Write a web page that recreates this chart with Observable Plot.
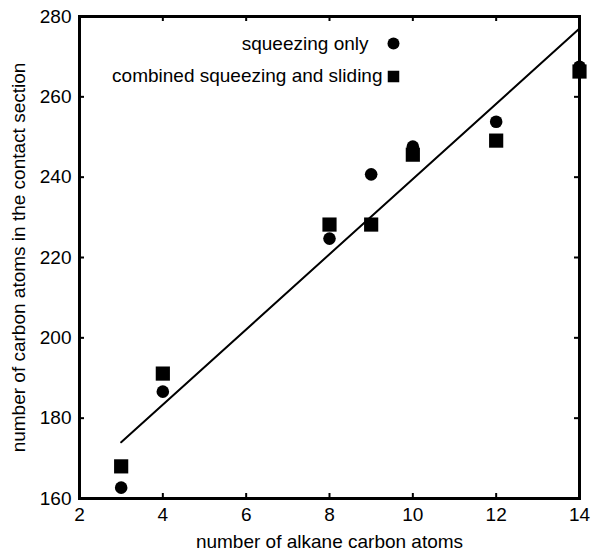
<!DOCTYPE html>
<html>
<head>
<meta charset="utf-8">
<script src="https://cdn.jsdelivr.net/npm/d3@7"></script>
<script src="https://cdn.jsdelivr.net/npm/@observablehq/plot@0.6"></script>
<style>
  html, body { margin: 0; padding: 0; background: #fff; }
  #chart svg { font-family: "Liberation Sans", Arial, Helvetica, sans-serif; }
</style>
</head>
<body>
<div id="chart"></div>
<script>
// Data
const carbonNumbers = [3, 4, 8, 9, 10, 12, 14];
const squeezingOnly = [162.7, 186.6, 224.7, 240.7, 247.6, 253.8, 267.5];
const combinedSliding = [168.0, 191.1, 228.2, 228.2, 245.6, 249.1, 266.3];
const fitX = [3, 14];
const fitY = [174, 277];
const xTicks = [2, 4, 6, 8, 10, 12, 14];
const yTicks = [160, 180, 200, 220, 240, 260, 280];
const legendLabels = ["squeezing only", "combined squeezing and sliding"];

const circles = carbonNumbers.map((x, i) => ({x, y: squeezingOnly[i]}));
const squares = carbonNumbers.map((x, i) => ({x, y: combinedSliding[i]}));
const fit = fitX.map((x, i) => ({x, y: fitY[i]}));

const W = 592, H = 552;
const mL = 79, mR = 13, mT = 16, mB = 54;
const plotH = H - mT - mB, plotW = W - mL - mR;
const FS = 19;

const chart = Plot.plot({
  width: W,
  height: H,
  marginLeft: mL,
  marginRight: mR,
  marginTop: mT,
  marginBottom: mB,
  style: {fontSize: FS + "px", fontFamily: '"Liberation Sans", Arial, sans-serif', color: "#000", background: "#fff"},
  x: {domain: [2, 14]},
  y: {domain: [160, 280]},
  marks: [
    Plot.axisX(xTicks, {tickSize: 0, tickPadding: 9, fontSize: FS, label: null}),
    Plot.axisY(yTicks, {tickSize: 0, tickPadding: 8, fontSize: FS, label: null}),
    // inward ticks on all four sides
    Plot.tickX(xTicks, {x: d => d, insetTop: plotH - 5, strokeWidth: 2}),
    Plot.tickX(xTicks, {x: d => d, insetBottom: plotH - 5, strokeWidth: 2}),
    Plot.tickY(yTicks, {y: d => d, insetRight: plotW - 5, strokeWidth: 2}),
    Plot.tickY(yTicks, {y: d => d, insetLeft: plotW - 5, strokeWidth: 2}),
    Plot.line(fit, {x: "x", y: "y", stroke: "#000", strokeWidth: 2}),
    Plot.dot(circles, {x: "x", y: "y", r: 6.3, fill: "#000", symbol: "circle"}),
    Plot.dot(squares, {x: "x", y: "y", r: 8, fill: "#000", symbol: "square"}),
    // legend
    Plot.text([legendLabels[0]], {frameAnchor: "top-left", dx: 289, dy: 27, text: d => d, textAnchor: "end", lineAnchor: "middle", fontSize: FS}),
    Plot.text([legendLabels[1]], {frameAnchor: "top-left", dx: 303, dy: 59, text: d => d, textAnchor: "end", lineAnchor: "middle", fontSize: FS}),
    Plot.dot([0], {frameAnchor: "top-left", dx: 314, dy: 27, r: 6, fill: "#000", symbol: "circle"}),
    Plot.dot([0], {frameAnchor: "top-left", dx: 314, dy: 60, r: 6.5, fill: "#000", symbol: "square"}),
    // axis titles
    Plot.text(["number of alkane carbon atoms"], {frameAnchor: "bottom", dy: 43, text: d => d, lineAnchor: "middle", fontSize: FS}),
    Plot.text(["number of carbon atoms in the contact section"], {frameAnchor: "left", dx: -61, rotate: -90, text: d => d, textAnchor: "middle", lineAnchor: "middle", fontSize: FS}),
    Plot.frame({stroke: "#000", strokeWidth: 3})
  ]
});
document.getElementById("chart").appendChild(chart);
</script>
</body>
</html>
